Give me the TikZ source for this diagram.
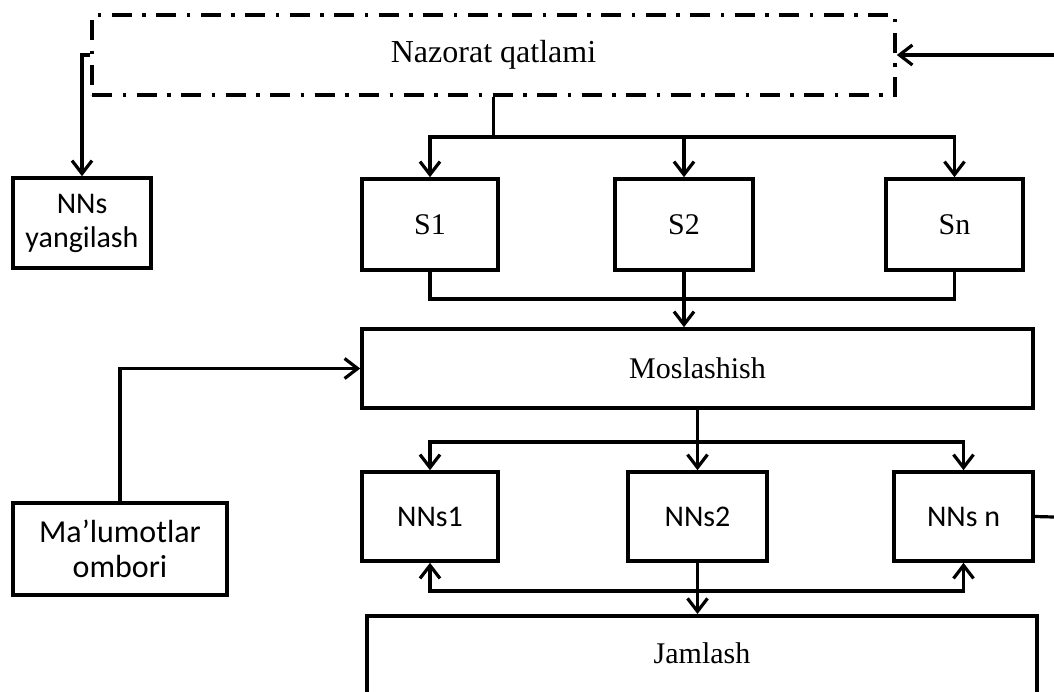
\documentclass[tikz,border=0pt]{standalone}
\usepackage{fontspec}
\setmainfont{Liberation Serif}
\newfontfamily\calibrifont{Carlito}
\usetikzlibrary{arrows.meta}
\begin{document}
\begin{tikzpicture}[x=1pt,y=-1pt,
  box/.style={draw, line width=3.6pt, inner sep=0pt, align=center},
  serifbox/.style={box, font=\fontsize{30}{36}\selectfont},
  sansbox/.style={box, font=\calibrifont\fontsize{30}{34}\selectfont},
  link/.style={line width=3.2pt},
  arr/.style={link, -{Straight Barb[length=13pt,width=20pt]}},
  dashdot/.style={dash pattern=on 20pt off 10.5pt on 3.5pt off 10.5pt}]

\useasboundingbox (0,0) rectangle (1054,691);

% control layer and the update block
\node[serifbox, font=\fontsize{32}{38}\selectfont, dashdot, minimum width=803pt, minimum height=80pt] (naz) at (493.5,55) {Nazorat qatlami};
\node[sansbox, minimum width=138pt, minimum height=90pt] (upd) at (82,223) {NNs\\yangilash};

% strategy blocks
\node[serifbox, minimum width=136pt, minimum height=91pt] (s1) at (430,224.5) {S1};
\node[serifbox, minimum width=138pt, minimum height=91pt] (s2) at (684,224.5) {S2};
\node[serifbox, minimum width=137pt, minimum height=91pt] (sn) at (954.5,224.5) {Sn};

% adaptation and data store
\node[serifbox, minimum width=671pt, minimum height=79pt] (mos) at (697.5,368.5) {Moslashish};
\node[sansbox, font=\calibrifont\fontsize{32}{35}\selectfont, minimum width=214pt, minimum height=92pt] (db) at (120,549) {Ma’lumotlar\\ombori};

% network blocks
\node[sansbox, minimum width=136pt, minimum height=89pt] (n1) at (430,516.5) {NNs1};
\node[sansbox, minimum width=139pt, minimum height=89pt] (n2) at (697.5,516.5) {NNs2};
\node[sansbox, minimum width=139pt, minimum height=89pt] (nn) at (963.5,516.5) {NNs n};

% aggregation (open at the bottom edge)
\node[box, minimum width=670pt, minimum height=140pt, anchor=north] (jam) at (702,614) {};
\node[font=\fontsize{30}{36}\selectfont, inner sep=0pt] (jamtxt) at (702,653) {Jamlash};

% free ends at the right border
\coordinate (inR) at (1054,55);
\coordinate (outR) at (1054,517);

% junction points
\coordinate (split) at (493.5,137);
\coordinate (merge) at (684,299);
\coordinate (fan) at (697.5,442);
\coordinate (back) at (697.5,591);

% connectors
\draw[arr] (inR) -- (naz.east);
\draw[arr] (naz.west) -| (upd.north);
\draw[link] (naz.south) -- (split);
\draw[arr] (split) -| (s1.north);
\draw[arr] (split) -| (s2.north);
\draw[arr] (split) -| (sn.north);

\draw[link] (s1.south) |- (merge);
\draw[link] (sn.south) |- (merge);
\draw[arr] (s2.south) -- (s2.south |- mos.north);

\draw[arr] (db.north) |- (mos.west);

\draw[link] (mos.south) -- (fan);
\draw[arr] (fan) -| (n1.north);
\draw[arr] (fan) -| (n2.north);
\draw[arr] (fan) -| (nn.north);

\draw[link] (nn.east) -- (outR);

\draw[arr] (back) -| (n1.south);
\draw[arr] (back) -| (nn.south);
\draw[arr] (n2.south) -- (n2.south |- jam.north);
\end{tikzpicture}
\end{document}
